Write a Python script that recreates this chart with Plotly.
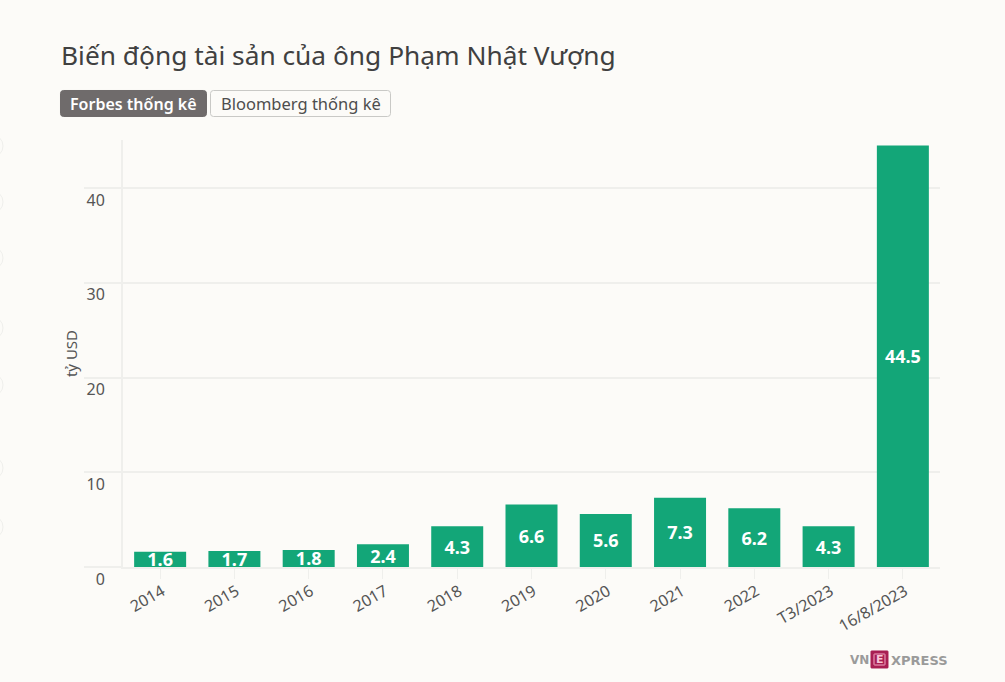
import plotly.graph_objects as go

categories = ["2014", "2015", "2016", "2017", "2018", "2019", "2020", "2021", "2022", "T3/2023", "16/8/2023"]
values = [1.6, 1.7, 1.8, 2.4, 4.3, 6.6, 5.6, 7.3, 6.2, 4.3, 44.5]
y_ticks = [0, 10, 20, 30, 40]
edge_arc_centres = [146, 202, 258, 328, 385, 468, 527]

FONT = "Noto Sans"
W, H = 1005, 682
L, R, T, B = 123, 940, 140, 567
BG = "#fcfbf8"
GRID = "#efefec"
TXT = "#555555"

def px(x):
    return (x - L) / (R - L)
def py(y):
    return (B - y) / (B - T)

fig = go.Figure(go.Bar(
    x=categories, y=values,
    marker=dict(color="#13a678", line=dict(width=0)),
    text=[f"{v:.1f}" for v in values],
    textposition="inside", insidetextanchor="middle", textangle=0,
    insidetextfont=dict(family=FONT, size=18, color="white", weight="bold"),
    cliponaxis=True, hoverinfo="x+y",
))

def rrect(x0, y0, x1, y1, r, fill, line):
    P = lambda a, b: f"{px(a):.5f},{py(b):.5f}"
    path = (f"M{P(x0+r,y0)} L{P(x1-r,y0)} Q{P(x1,y0)} {P(x1,y0+r)} L{P(x1,y1-r)} Q{P(x1,y1)} {P(x1-r,y1)} "
            f"L{P(x0+r,y1)} Q{P(x0,y1)} {P(x0,y1-r)} L{P(x0,y0+r)} Q{P(x0,y0)} {P(x0+r,y0)} Z")
    return dict(type="path", xref="paper", yref="paper", path=path,
                fillcolor=fill, line=dict(color=line, width=1), layer="above")

shapes = [
    rrect(60.5, 90.5, 206.5, 116.5, 3, "#6f6b6b", "#6f6b6b"),
    rrect(210.5, 90.5, 390.5, 116.5, 3, BG, "#c9c9c6"),
    rrect(871, 651, 888, 668, 0.5, "#a81f53", "#a81f53"),
    rrect(874, 654, 885, 665, 0.5, "#a81f53", "#f3a9c4"),
]
for c in edge_arc_centres:
    shapes.append(dict(type="circle", xref="paper", yref="paper",
                       x0=px(-18), x1=px(3), y0=py(c - 11), y1=py(c + 11),
                       line=dict(color=GRID, width=1), layer="below"))

def label(x, y, text, size, color, anchor="left", weight=None, family=FONT):
    return dict(xref="paper", yref="paper", x=px(x), y=py(y), text=text, showarrow=False,
                xanchor=anchor, yanchor="middle", xshift=0,
                font=dict(family=family, size=size, color=color, weight=weight))

annotations = [
    label(59, 55, "Biến động tài sản của ông Phạm Nhật Vượng", 26.3, "#404040"),
    label(133.5, 104, "Forbes thống kê", 16, "#ffffff", "center", 600),
    label(300.5, 104, "Bloomberg thống kê", 16.5, "#4d4d4d", "center"),
    label(848, 660, "VN", 12, "#9a9a9a", weight="bold", family="DejaVu Sans"),
    label(889, 660, "XPRESS", 13, "#9a9a9a", weight="bold", family="DejaVu Sans"),
    label(879.5, 659.5, "E", 11, "#f7c4d6", "center", "bold", "DejaVu Sans"),
]

fig.update_layout(
    width=W, height=H, autosize=False,
    paper_bgcolor=BG, plot_bgcolor=BG,
    margin=dict(l=L, r=W - R, t=T, b=H - B, autoexpand=False),
    bargap=0.3, showlegend=False,
    font=dict(family=FONT, color=TXT, size=16),
    shapes=shapes, annotations=annotations,
    uniformtext=dict(mode="show", minsize=18),
    xaxis=dict(type="category", tickangle=-30, ticks="outside", ticklen=10, tickcolor=GRID, tickwidth=1,
               showline=True, linecolor=GRID, linewidth=2, showgrid=False, ticklabelstandoff=-3, ticklabelshift=2,
               tickfont=dict(family=FONT, size=16, color=TXT), fixedrange=True),
    yaxis=dict(range=[0, 45.07], tickvals=y_ticks, ticks="outside", ticklen=37, tickcolor=GRID, tickwidth=2,
               showgrid=True, gridcolor=GRID, gridwidth=2, showline=True, linecolor=GRID, linewidth=2,
               zeroline=False, ticklabelshift=12, ticklabelstandoff=-24,
               tickfont=dict(family=FONT, size=16, color=TXT), fixedrange=True,
               title=dict(text="tỷ USD", font=dict(family=FONT, size=15, color=TXT), standoff=5)),
)
fig.write_html("out.html", config=dict(displayModeBar=False), post_script=(
    "document.body.style.margin='0';"
    f"document.body.style.background='{BG}';"
    "document.documentElement.style.overflow='hidden';"
))
